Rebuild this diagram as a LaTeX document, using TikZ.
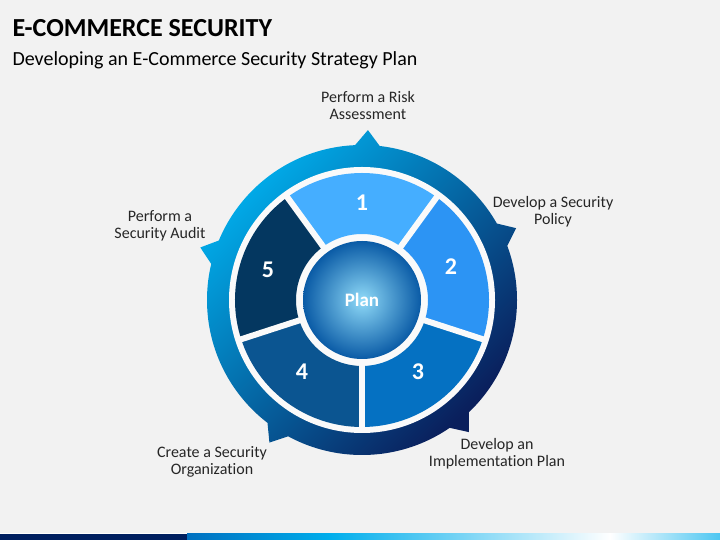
\documentclass[tikz,border=0pt]{standalone}
\usepackage{fontspec}
\setmainfont{Carlito}[Ligatures=CommonOff]

\definecolor{bgcol}{HTML}{F2F2F2}
\definecolor{ringlight}{HTML}{00AEEC}
\definecolor{ringdark}{HTML}{0A1F5C}
\definecolor{seg1}{HTML}{45AEFF}
\definecolor{seg2}{HTML}{2C94F4}
\definecolor{seg3}{HTML}{0571C2}
\definecolor{seg4}{HTML}{0B5591}
\definecolor{seg5}{HTML}{043760}
\definecolor{planlight}{HTML}{8FDAF8}
\definecolor{plandark}{HTML}{0A5BA6}
\definecolor{bardark}{HTML}{002060}
\definecolor{barmid}{HTML}{0070C0}

\begin{document}
\begin{tikzpicture}[x=1pt,y=1pt,
  lbl/.style={align=center,text=black!85,font=\fontsize{16}{17}\selectfont},
  num/.style={text=white,font=\bfseries\fontsize{24}{26}\selectfont},
  segsep/.style={draw=white!96!gray,line width=6pt}]
\fill[bgcol] (0,0) rectangle (720,540);
\useasboundingbox (0,0) rectangle (720,540);

\node[anchor=west,font=\bfseries\fontsize{26}{30}\selectfont] (title) at (9,512) {E-COMMERCE SECURITY};
\node[anchor=west,font=\fontsize{20}{24}\selectfont] (subtitle) at (9,480) {Developing an E-Commerce Security Strategy Plan};

\begin{scope}[shift={(362,240)}]
\shade[top color=ringlight,bottom color=ringdark,shading angle=45]
  (0,0) circle (155)
  \foreach \a in {88,25,-51,-123,162} {(\a-6:151) -- (\a:170) -- (\a+6:151) -- cycle};
\fill[white!96!gray] (0,0) circle (133);
\foreach \n/\a in {1/90,2/18,3/-54,4/-126,5/-198}
  \fill[seg\n] (\a-36:66) arc (\a-36:\a+36:66) -- (\a+36:127) arc (\a+36:\a-36:127) -- cycle;
\foreach \a in {54,-18,-90,-162,126}
  \draw[segsep] (\a:62) -- (\a:130);
\shade[inner color=planlight,outer color=plandark] (0,0) circle (59);
\node[text=white,font=\bfseries\fontsize{19}{22}\selectfont] (plan) at (0,0) {Plan};
\node[num] (n1) at (0,97) {1};
\node[num] (n2) at (89,33) {2};
\node[num] (n3) at (56,-72) {3};
\node[num] (n4) at (-60,-72) {4};
\node[num] (n5) at (-94,30) {5};
\end{scope}

\node[lbl] (l1) at (368,434) {Perform a Risk\\Assessment};
\node[lbl] (l2) at (553,328) {Develop a Security\\Policy};
\node[lbl] (l3) at (160,314) {Perform a\\Security Audit};
\node[lbl] (l4) at (212,78) {Create a Security\\Organization};
\node[lbl] (l5) at (497,86) {Develop an\\Implementation Plan};

\fill[white] (0,6) rectangle (720,7);
\fill[bardark] (0,0) rectangle (187,6);
\shade[left color=barmid,right color=ringlight] (187,0) rectangle (330,6);
\shade[left color=ringlight,right color=white] (330,0) rectangle (610,6);
\shade[left color=white,right color=ringlight!70] (610,0) rectangle (720,6);
\end{tikzpicture}
\end{document}
